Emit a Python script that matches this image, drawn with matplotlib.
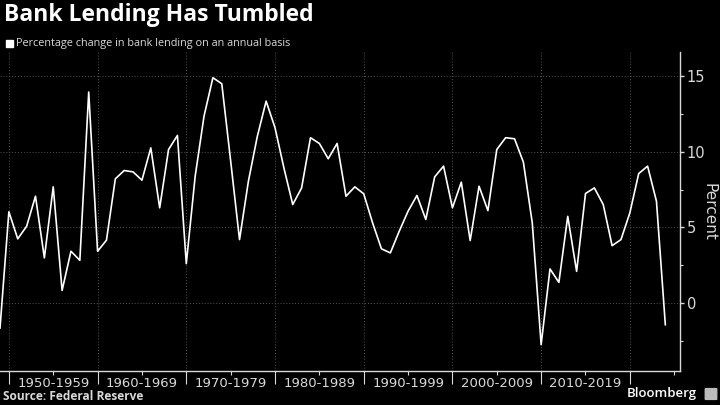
import numpy as np
import matplotlib.pyplot as plt
from matplotlib.patches import Rectangle, FancyBboxPatch

# years and annual % change in bank lending
years = np.arange(1949, 2025)
lending = [-1.66, 6.03, 4.24, 5.07, 7.06, 2.98, 7.68, 0.83, 3.42, 2.82,
           13.95, 3.42, 4.15, 8.21, 8.76, 8.67, 8.12, 10.26, 6.29, 10.15,
           11.08, 2.60, 8.38, 12.36, 14.9, 14.5, 9.4, 4.19, 8.05, 11.0,
           13.35, 11.59, 8.94, 6.51, 7.61, 10.93, 10.55, 9.54, 10.55, 7.06,
           7.68, 7.22, 5.30, 3.58, 3.31, 4.74, 6.07, 7.11, 5.52, 8.34,
           9.05, 6.29, 7.99, 4.13, 7.72, 6.11, 10.15, 10.93, 10.86, 9.31,
           5.30, -2.76, 2.25, 1.36, 5.73, 2.09, 7.24, 7.61, 6.51, 3.79,
           4.19, 5.96, 8.56, 9.05, 6.73, -1.44]

decade_starts = [1950, 1960, 1970, 1980, 1990, 2000, 2010, 2020]
decade_labels = ['1950-1959', '1960-1969', '1970-1979', '1980-1989',
                 '1990-1999', '2000-2009', '2010-2019', '']

txt = '#d9d9d9'
fig = plt.figure(figsize=(7.2, 4.05), dpi=100, facecolor='black')
ax = fig.add_axes([0.0, 0.084, 0.9444, 0.7876], facecolor='black')

ax.plot(years, lending, color='white', lw=1.2, clip_on=False, zorder=3)

ax.set_xlim(1949.0, 2025.65)
ax.set_ylim(-4.5, 16.6)

# y axis on the right
ax.yaxis.tick_right()
ax.yaxis.set_label_position('right')
ax.set_yticks([0, 5, 10, 15])
ax.set_yticks([-2.5, 2.5, 7.5, 12.5], minor=True)
ax.tick_params(axis='y', which='major', colors=txt, length=3, width=1, labelsize=10.5, pad=2)
ax.tick_params(axis='y', which='minor', colors=txt, length=2.5, width=0.8)
ax.set_ylabel('Percent', color=txt, fontsize=11, rotation=270, labelpad=8)

# x axis: decade separators and labels
ax.set_xticks(decade_starts)
ax.set_xticklabels([])
ax.set_xticks([d + 5 for d in decade_starts], minor=True)
ax.set_xticklabels(decade_labels, minor=True)
ax.tick_params(axis='x', which='major', colors=txt, length=9, width=0.8)
ax.tick_params(axis='x', which='minor', colors=txt, length=3, width=0.8, labelsize=9.5, pad=1)

for s in ['top', 'left']:
    ax.spines[s].set_visible(False)
for s in ['right', 'bottom']:
    ax.spines[s].set_color(txt)
    ax.spines[s].set_linewidth(1)

ax.grid(True, which='major', color='#555555', linestyle=(0, (1, 2)), linewidth=0.7)
ax.set_axisbelow(True)

# titles
fig.text(0.006, 0.963, 'Bank Lending Has Tumbled', color='white', fontsize=16.5,
         fontweight='bold', family='Open Sans', va='center', ha='left')
fig.patches.append(Rectangle((6 / 720, 1 - 47 / 405), 7 / 720, 7 / 405,
                             transform=fig.transFigure, color='white'))
fig.text(16 / 720, 1 - 43.5 / 405, 'Percentage change in bank lending on an annual basis',
         color=txt, fontsize=7.8, family='Open Sans', va='center', ha='left')

# footer
fig.text(3 / 720, 1 - 397 / 405, 'Source: Federal Reserve', color=txt, fontsize=8.6,
         fontweight='bold', family='Open Sans', va='center', ha='left')
fig.text(697 / 720, 1 - 394 / 405, 'Bloomberg', color='white', fontsize=9.5,
         family='Open Sans', fontweight='semibold', va='center', ha='right')
fig.patches.append(FancyBboxPatch((706 / 720, 1 - 399 / 405), 10 / 720, 10 / 405,
                                  boxstyle='round,pad=0.001', transform=fig.transFigure,
                                  color='#bbbbbb'))

fig.savefig('out.png', dpi=100, facecolor='black')
